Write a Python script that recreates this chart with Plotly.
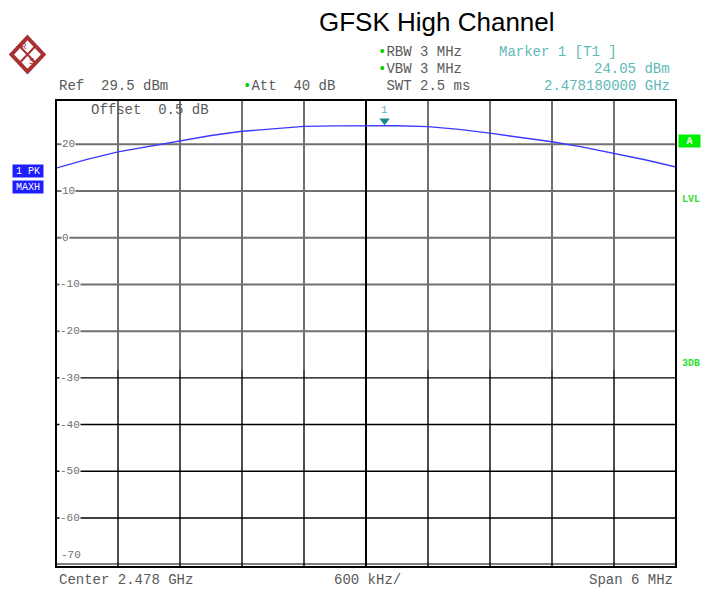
import plotly.graph_objects as go

# ---------------- data ----------------
freq_ghz = [2.4750, 2.4753, 2.4756, 2.4759, 2.4762, 2.4765, 2.4768, 2.4771,
            2.4774, 2.4777, 2.4780, 2.47818, 2.4783, 2.4786, 2.4789, 2.4792,
            2.4795, 2.4798, 2.4801, 2.4804, 2.4807, 2.4810]
level_dbm = [14.9, 16.8, 18.4, 19.6, 20.85, 21.9, 22.8, 23.4,
             23.85, 23.95, 24.0, 24.05, 24.0, 23.8, 23.2, 22.4,
             21.5, 20.55, 19.4, 18.1, 16.7, 15.15]

marker_freq = 2.47818
marker_level = 24.05

x_start, x_stop = 2.475, 2.481
x_div = 0.0006
y_top, y_bottom = 29.5, -70.5
y_grid = [20, 10, 0, -10, -20, -30, -40, -50, -60]
y_labels = ["20", "10", "0", "-10", "-20", "-30", "-40", "-50", "-60"]
y_split = -28.3

MONO = "Liberation Mono, Courier New, monospace"
GREY = "#5a5a5a"
TEAL = "#5fb8b8"

# plot area in window pixels
L, R, T, B = 56, 676, 100, 567
W, H = 704, 592


def P(X, Y):
    return (X - L) / (R - L), (B - Y) / (B - T)


fig = go.Figure()

# grid built from the grid definitions
x_lines = [round(x_start + k * x_div, 7) for k in range(1, 10)]
grey_x, grey_y, black_x, black_y = [], [], [], []
for xv in x_lines:
    grey_x += [xv, xv, None]
    grey_y += [y_split, y_top, None]
    black_x += [xv, xv, None]
    black_y += [y_bottom, y_split, None]
for v in y_grid:
    if v > y_split:
        grey_x += [x_start, x_stop, None]
        grey_y += [v, v, None]
    else:
        black_x += [x_start, x_stop, None]
        black_y += [v, v, None]

fig.add_trace(go.Scatter(x=grey_x, y=grey_y, mode="lines",
                         line=dict(color="#707070", width=2),
                         hoverinfo="skip", showlegend=False))
fig.add_trace(go.Scatter(x=black_x, y=black_y, mode="lines",
                         line=dict(color="#000000", width=1.4),
                         hoverinfo="skip", showlegend=False))
xc = x_lines[4]
fig.add_trace(go.Scatter(x=[xc, xc, None, xc, xc], y=[y_split, y_top, None, y_bottom, y_split],
                         mode="lines", line=dict(color="#000000", width=2),
                         hoverinfo="skip", showlegend=False))

fig.add_trace(go.Scatter(x=freq_ghz, y=level_dbm, mode="lines",
                         line=dict(color="#3a3aff", width=1.4),
                         hoverinfo="skip", showlegend=False))

fig.add_trace(go.Scatter(x=[marker_freq], y=[marker_level + 1.0], mode="markers",
                         marker=dict(symbol="triangle-down", size=9, color="#168a8a"),
                         hoverinfo="skip", showlegend=False))

shapes = []
# frame
shapes.append(dict(type="rect", xref="paper", yref="paper", x0=0, x1=1, y0=0, y1=1,
                   line=dict(color="#000000", width=2), layer="above"))
shapes.append(dict(type="line", xref="paper", yref="paper",
                   x0=0, x1=1, y0=P(0, B - 3)[1], y1=P(0, B - 3)[1],
                   line=dict(color="#000000", width=1), layer="above"))

# R&S logo
cx, cy, hw, hh = 27.5, 54.5, 16, 17
pts = [P(cx, cy - hh), P(cx + hw, cy), P(cx, cy + hh), P(cx - hw, cy)]
path = "M " + " L ".join(f"{a},{b}" for a, b in pts) + " Z"
shapes.append(dict(type="path", xref="paper", yref="paper", path=path,
                   line=dict(color="#a83030", width=4), fillcolor="white", layer="above"))
for (ax, ay), (bx, by) in [((cx - hw / 2, cy - hh / 2), (cx + hw / 2, cy + hh / 2)),
                           ((cx + hw / 2, cy - hh / 2), (cx - hw / 2, cy + hh / 2))]:
    a, b = P(ax, ay)
    c, d = P(bx, by)
    shapes.append(dict(type="line", xref="paper", yref="paper", x0=a, y0=b, x1=c, y1=d,
                       line=dict(color="#a83030", width=2), layer="above"))

annotations = []


def txt(text, X, Y, color=GREY, size=14, xanchor="left", family=MONO, **kw):
    px, py = P(X, Y)
    annotations.append(dict(text=text, x=px, y=py, xref="paper", yref="paper",
                            xanchor=xanchor, yanchor="middle", showarrow=False,
                            font=dict(family=family, size=size, color=color), **kw))


txt("R", 24, 47, color="#a83030", size=9, xanchor="center")
txt("S", 31, 62, color="#a83030", size=9, xanchor="center")

# title
txt("GFSK High Channel", 437, 22, color="#000000", size=26, xanchor="center",
    family="Liberation Sans, Arial, sans-serif")

dot = "<span style='color:#00d000'>•</span>"
txt("Ref  29.5 dBm", 57, 86)
txt(dot + "Att  40 dB", 241, 86)
txt(dot + "RBW 3 MHz", 376, 52)
txt(dot + "VBW 3 MHz", 376, 69)
txt(" SWT 2.5 ms", 376, 86)
txt("Marker 1 [T1 ]", 497, 52, color=TEAL)
txt("24.05 dBm", 672, 69, color=TEAL, xanchor="right")
txt("2.478180000 GHz", 672, 86, color=TEAL, xanchor="right")
txt("Offset  0.5 dB", 89, 110)

txt("Center 2.478 GHz", 57, 580)
txt("600 kHz/", 367, 580, xanchor="center")
txt("Span 6 MHz", 675, 580, xanchor="right")

# y tick labels inside the plot
for v, lab in zip(y_grid, y_labels):
    annotations.append(dict(text=lab, x=x_start, y=v, xref="x", yref="y",
                            xanchor="left", yanchor="middle", xshift=5 if v >= 0 else 3,
                            showarrow=False, bgcolor="white", borderpad=0,
                            font=dict(family=MONO, size=11, color="#707070")))
annotations.append(dict(text="-70", x=x_start, y=y_bottom, xref="x", yref="y",
                        xanchor="left", yanchor="bottom", xshift=3, yshift=4,
                        showarrow=False,
                        font=dict(family=MONO, size=11, color="#707070")))

# marker label
annotations.append(dict(text="1", x=marker_freq, y=marker_level + 1.0, xref="x", yref="y",
                        xanchor="center", yanchor="bottom", yshift=3, showarrow=False,
                        font=dict(family=MONO, size=11, color=TEAL)))

# left trace labels
txt("1 PK", 28, 170.5, color="white", size=10, xanchor="center",
    bgcolor="#1e1eff", width=30, height=12, borderpad=0)
txt("MAXH", 28, 186.5, color="white", size=10, xanchor="center",
    bgcolor="#1e1eff", width=30, height=12, borderpad=0)

# right side labels
txt("<b>A</b>", 690, 141, color="white", size=10, xanchor="center",
    bgcolor="#00ee00", width=21, height=12, borderpad=0)
txt("<b>LVL</b>", 690.5, 200, color="#33dd33", size=10, xanchor="center")
txt("<b>3DB</b>", 690.5, 363, color="#33dd33", size=10, xanchor="center")

fig.update_layout(
    width=W, height=H, autosize=False,
    margin=dict(l=L, r=W - R, t=T, b=H - B),
    paper_bgcolor="white", plot_bgcolor="white",
    xaxis=dict(range=[x_start, x_stop], visible=False, fixedrange=True),
    yaxis=dict(range=[y_bottom, y_top], visible=False, fixedrange=True),
    shapes=shapes, annotations=annotations, showlegend=False,
)

fig.write_html("out.html",
               config={"displayModeBar": False, "staticPlot": True},
               post_script="document.body.style.margin='0';"
                           "document.body.style.overflow='hidden';")
